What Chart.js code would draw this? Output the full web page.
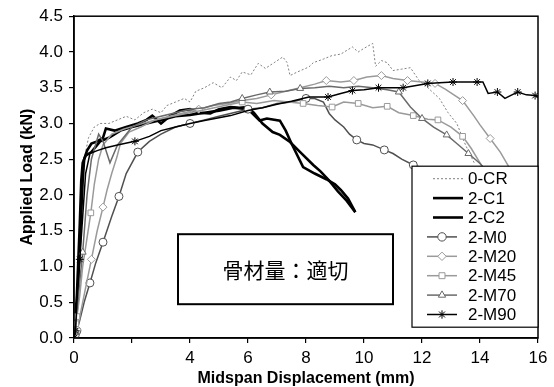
<!DOCTYPE html>
<html><head><meta charset="utf-8">
<script src="https://cdn.jsdelivr.net/npm/chart.js@4.4.0/dist/chart.umd.min.js"></script>
<style>html,body{margin:0;padding:0;background:#fff;}canvas{display:block;}</style>
</head><body>
<canvas id="c" width="554" height="387"></canvas>
<script>
// ---- data ----
const seriesNames = ['0-CR','2-C1','2-C2','2-M0','2-M20','2-M45','2-M70','2-M90'];
const xTickStep = 2, xMin = 0, xMax = 16;
const yTickStep = 0.5, yMin = 0, yMax = 4.5;
const hiddenXTickLabels = [2];
const xTitle = 'Midspan Displacement (mm)';
const yTitle = 'Applied Load (kN)';
const noteText = '骨材量：適切';

const cr_x = [0,0.05,0.1,0.15,0.2,0.3,0.4,0.5,0.7,0.9,1.2,1.5,1.8,2.1,2.4,2.7,3.0,3.2,3.5,3.8,4.0,4.2,4.5,4.8,5.1,5.4,5.6,5.8,6.1,6.35,6.6,6.9,7.2,7.35,7.45,7.7,8.1,8.25,8.6,8.9,9.2,9.6,9.8,10.0,10.3,10.4,10.6,10.8,11.0,11.3,11.6,11.9,12.2,12.6,12.9,13.2,13.5,13.8];
const cr_y = [0,0.2,0.5,1.0,1.6,2.2,2.6,2.8,2.95,3.0,3.0,3.05,3.1,3.05,3.15,3.2,3.15,3.25,3.3,3.35,3.3,3.45,3.5,3.57,3.5,3.65,3.6,3.72,3.68,3.84,3.77,3.85,3.93,3.85,3.67,3.72,3.79,3.85,3.9,3.95,3.97,4.07,4.0,4.05,4.12,3.8,3.88,3.85,3.74,3.76,3.78,3.6,3.5,3.35,3.15,3.0,2.7,2.45];

const c1_x = [0,0.1,0.2,0.3,0.35,0.45,0.6,0.8,1.0,1.1,1.4,1.8,2.2,2.5,2.7,3.0,3.3,3.65,4.0,4.3,4.7,5.0,5.4,5.7,5.96,6.2,6.5,6.85,7.1,7.45,7.8,8.25,8.5,8.8,9.1,9.4,9.7];
const c1_y = [0,0.4,1.3,2.2,2.5,2.62,2.72,2.75,2.8,2.93,2.9,2.95,3.0,3.05,3.11,3.0,3.1,3.18,3.2,3.15,3.14,3.2,3.23,3.22,3.23,3.15,3.0,2.88,2.84,2.74,2.6,2.42,2.33,2.2,2.05,1.92,1.76];

const c2_x = [0,0.1,0.2,0.25,0.3,0.4,0.6,0.9,1.2,1.6,2.0,2.5,3.0,3.5,4.0,4.5,5.0,5.5,6.0,6.4,6.65,7.1,7.3,7.5,7.9,8.3,8.7,9.0,9.2,9.45,9.7];
const c2_y = [0,0.6,1.6,2.2,2.45,2.55,2.6,2.75,2.8,2.9,2.95,3.0,3.05,3.1,3.12,3.15,3.18,3.22,3.2,3.04,3.07,3.04,2.9,2.72,2.39,2.3,2.22,2.15,2.07,1.95,1.76];

const m0_x = [0,0.05,0.1,0.2,0.35,0.55,0.75,1.0,1.3,1.55,1.8,2.2,2.6,3.0,3.5,4.0,4.5,5.0,5.5,6.0,6.5,7.0,7.5,8.0,8.3,8.6,8.8,9.0,9.3,9.5,9.75,10.0,10.3,10.7,11.0,11.3,11.7,12.0,12.4,12.8];
const m0_y = [0,0.05,0.1,0.25,0.5,0.77,1.05,1.34,1.7,1.98,2.3,2.6,2.75,2.85,2.95,3.0,3.05,3.1,3.15,3.2,3.22,3.28,3.3,3.35,3.35,3.3,3.14,3.05,2.95,2.85,2.77,2.72,2.7,2.63,2.58,2.5,2.42,2.38,2.33,2.25];

const m20_x = [0,0.05,0.1,0.2,0.4,0.6,0.8,1.0,1.14,1.3,1.48,1.6,1.9,2.3,2.8,3.3,3.8,4.3,4.8,5.3,5.8,6.3,6.8,7.3,7.8,8.3,8.7,9.2,9.65,10.1,10.6,11.0,11.5,12.0,12.45,12.8,13.1,13.4,13.8,14.0,14.35,14.7,15.0];
const m20_y = [0,0.05,0.12,0.3,0.7,1.1,1.5,1.83,2.07,2.3,2.53,2.72,2.88,2.95,3.05,3.1,3.15,3.2,3.25,3.28,3.32,3.35,3.4,3.45,3.5,3.55,3.6,3.58,3.6,3.65,3.67,3.63,3.6,3.58,3.56,3.48,3.4,3.32,3.1,2.98,2.79,2.6,2.39];

const m45_x = [0,0.03,0.06,0.1,0.2,0.3,0.45,0.58,0.7,0.85,1.0,1.3,1.7,2.2,2.8,3.4,4.0,4.6,5.2,5.8,6.3,6.9,7.4,7.9,8.4,8.9,9.3,9.8,10.3,10.8,11.2,11.7,12.2,12.55,13.0,13.4,13.7,14.0,14.3];
const m45_y = [0,0.1,0.2,0.3,0.6,1.0,1.4,1.75,2.15,2.5,2.7,2.85,2.92,2.98,3.05,3.1,3.15,3.2,3.25,3.3,3.28,3.32,3.3,3.28,3.25,3.23,3.3,3.28,3.22,3.24,3.15,3.11,3.06,3.05,2.95,2.82,2.65,2.45,2.25];

const m70_x = [0,0.05,0.1,0.2,0.3,0.45,0.6,0.85,1.0,1.24,1.5,2.0,2.5,3.0,3.5,4.0,4.5,5.0,5.4,5.8,6.3,6.75,7.3,7.8,8.3,8.8,9.3,9.8,10.3,10.8,11.2,11.6,12.0,12.4,12.85,13.2,13.6,14.0,14.2];
const m70_y = [0,0.1,0.4,0.8,1.2,2.0,2.5,2.85,2.75,2.45,2.7,2.95,3.05,3.1,3.15,3.2,3.22,3.28,3.3,3.35,3.4,3.44,3.45,3.49,3.5,3.52,3.5,3.52,3.5,3.47,3.44,3.23,3.07,2.95,2.84,2.72,2.58,2.44,2.35];

const m90_x = [0,0.05,0.1,0.2,0.3,0.4,0.55,0.8,1.1,1.5,2.1,2.6,3.0,3.5,4.0,4.5,5.0,5.4,6.0,6.5,7.0,7.5,8.1,8.76,9.2,9.6,10.0,10.5,10.9,11.35,11.8,12.2,12.6,13.07,13.5,13.9,14.1,14.28,14.6,14.86,15.1,15.3,15.6,15.9,16];
const m90_y = [0,0.1,0.5,1.1,1.7,2.3,2.58,2.62,2.66,2.7,2.75,2.82,2.9,2.95,3.0,3.04,3.08,3.11,3.18,3.22,3.27,3.31,3.37,3.37,3.42,3.46,3.47,3.5,3.5,3.5,3.53,3.56,3.57,3.58,3.58,3.58,3.58,3.42,3.44,3.35,3.4,3.44,3.4,3.39,3.37];

// ---- styles ----
const FONT = '"Liberation Sans", Arial, Helvetica, sans-serif';
const styles = [
  {color:'#808080', width:1, dash:[2,2], point:false, marks:[]},
  {color:'#000000', width:2.6, dash:[], point:false, marks:[]},
  {color:'#000000', width:2.6, dash:[], point:false, marks:[]},
  {color:'#505050', width:1.5, dash:[], point:'circle', marks:[0,1,2,5,7,9,11,15,19,23,30,33,36]},
  {color:'#9a9a9a', width:1.5, dash:[], point:'rectRot', marks:[0,2,5,7,17,22,26,28,30,32,34,37,40]},
  {color:'#9a9a9a', width:1.5, dash:[], point:'rect', marks:[0,1,2,3,7,19,23,25,27,29,31,33,35]},
  {color:'#6a6a6a', width:1.5, dash:[], point:'triangle', marks:[0,1,4,19,21,23,30,32,34,36]},
  {color:'#000000', width:1.5, dash:[], point:'star', marks:[0,1,3,10,23,25,27,29,31,33,35,38,41,43]}
];
const xs = [cr_x,c1_x,c2_x,m0_x,m20_x,m45_x,m70_x,m90_x];
const ys = [cr_y,c1_y,c2_y,m0_y,m20_y,m45_y,m70_y,m90_y];

const datasets = seriesNames.map((name,i)=>{
  const st = styles[i];
  const marks = new Set(st.marks);
  return {
    label:name,
    data: xs[i].map((x,k)=>({x:x,y:ys[i][k]})),
    borderColor: st.color,
    borderWidth: st.width,
    borderDash: st.dash,
    backgroundColor:'#ffffff',
    pointBackgroundColor:'#ffffff',
    pointBorderColor: st.color,
    pointBorderWidth:1,
    pointStyle: st.point || 'circle',
    pointRadius: ctx => (st.point && marks.has(ctx.dataIndex)) ? 4 : 0,
    pointHoverRadius:0,
    tension:0,
    fill:false,
    order: 8-i
  };
});

const overlay = {
  id:'overlay',
  afterDatasetsDraw(chart){
    const ctx = chart.ctx, a = chart.chartArea;
    ctx.save();
    // frame
    ctx.strokeStyle='#000'; ctx.lineWidth=1.5;
    ctx.strokeRect(a.left, a.top, a.right-a.left, a.bottom-a.top);
    // note box
    const bx = a.left + 104, by = a.top + 218, bw = 215, bh = 70;
    ctx.fillStyle='#fff'; ctx.fillRect(bx,by,bw,bh);
    ctx.lineWidth=2; ctx.strokeStyle='#000'; ctx.strokeRect(bx,by,bw,bh);
    ctx.fillStyle='#000'; ctx.font='21px "Noto Sans CJK JP", sans-serif';
    ctx.textAlign='center'; ctx.textBaseline='middle';
    ctx.fillText(noteText, bx+bw/2, by+bh/2+1);
    // legend
    const lx = a.right - 126, ly = a.top + 150, lw = 126, lh = 161;
    ctx.fillStyle='#fff'; ctx.fillRect(lx,ly,lw,lh);
    ctx.lineWidth=1.2; ctx.strokeStyle='#000'; ctx.strokeRect(lx,ly,lw,lh);
    ctx.font='17px '+FONT; ctx.textAlign='left'; ctx.textBaseline='middle';
    seriesNames.forEach((name,i)=>{
      const st = styles[i];
      const yy = ly + 12.5 + i*19.4;
      const x0 = st.point ? lx+15 : lx+21, x1 = st.point ? lx+45 : lx+51;
      ctx.save();
      ctx.strokeStyle = st.color; ctx.lineWidth = st.width; ctx.setLineDash(st.dash);
      ctx.beginPath(); ctx.moveTo(x0,yy); ctx.lineTo(x1,yy); ctx.stroke();
      ctx.restore();
      if (st.point){
        ctx.save();
        ctx.strokeStyle = st.color; ctx.fillStyle='#fff'; ctx.lineWidth=1;
        Chart.helpers.drawPoint(ctx,{pointStyle:st.point, radius:4.2, borderWidth:1, rotation:0},(x0+x1)/2,yy);
        ctx.restore();
      }
      ctx.fillStyle='#000';
      ctx.fillText(name, lx+56, yy+1);
    });
    ctx.restore();
  }
};

new Chart(document.getElementById('c'),{
  type:'line',
  data:{datasets},
  options:{
    responsive:false, animation:false, devicePixelRatio:1, events:[],
    layout:{padding:{left:0,right:16,top:16,bottom:0}},
    plugins:{legend:{display:false}, tooltip:{enabled:false}},
    scales:{
      x:{type:'linear', min:xMin, max:xMax,
        ticks:{stepSize:xTickStep, color:'#000', font:{size:17,family:FONT}, padding:5, maxRotation:0, autoSkip:false,
          callback:v=> hiddenXTickLabels.includes(v) ? '' : String(v)},
        grid:{drawOnChartArea:false, drawTicks:true, tickLength:5, color:'#000', lineWidth:1.2},
        border:{display:true,color:'#000',width:1.5},
        title:{display:true,text:xTitle,color:'#000',font:{size:16,weight:'bold',family:FONT,lineHeight:1},padding:{top:0,bottom:0}},
        afterFit:s=>{s.height=49;}
      },
      y:{type:'linear', min:yMin, max:yMax,
        ticks:{stepSize:yTickStep, color:'#000', font:{size:17,family:FONT}, padding:6,
          callback:v=>Number(v).toFixed(1)},
        grid:{drawOnChartArea:false, drawTicks:true, tickLength:5, color:'#000', lineWidth:1.2},
        border:{display:true,color:'#000',width:1.5},
        title:{display:true,text:yTitle,color:'#000',font:{size:16,weight:'bold',family:FONT,lineHeight:1},padding:{top:20,bottom:0}},
        afterFit:s=>{s.width=74;}
      }
    }
  },
  plugins:[overlay]
});
</script>
</body></html>
